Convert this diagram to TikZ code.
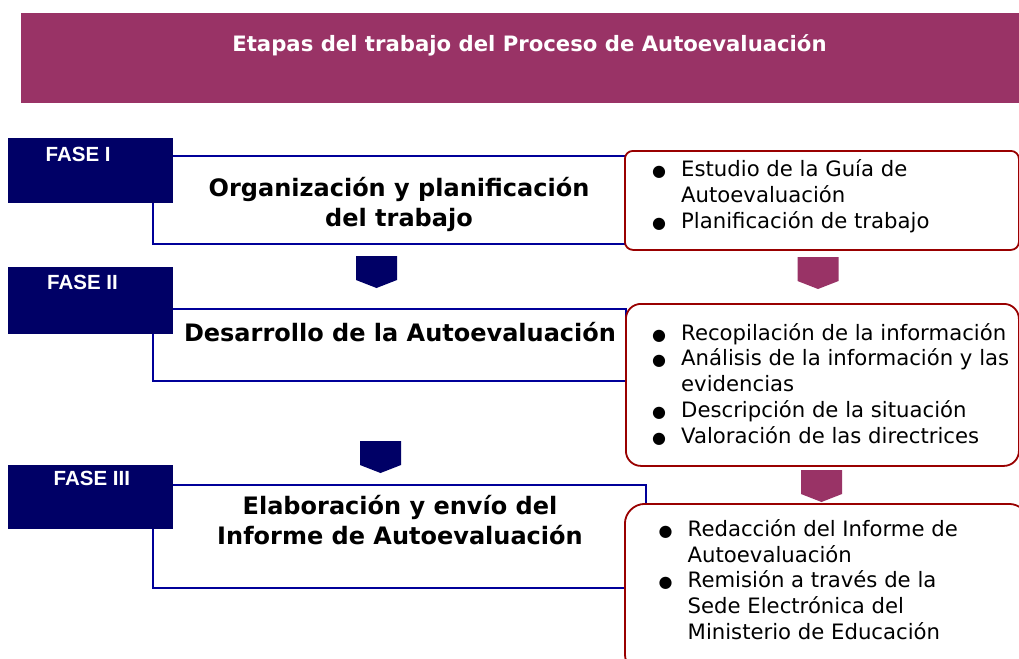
\documentclass[tikz,border=0pt]{standalone}
\usepackage{fontspec}
\setmainfont{DejaVu Sans}
\newfontfamily\arialfont{Liberation Sans}
\definecolor{plum}{HTML}{993366}
\definecolor{phasenavy}{HTML}{000066}
\definecolor{lineblue}{HTML}{000099}
\definecolor{boxred}{HTML}{990000}
\newcommand\itm{\makebox[29pt][l]{\fontsize{16}{16}\selectfont ●}}
\begin{document}
\begin{tikzpicture}[x=1pt,y=-1pt,
  banner/.style={fill=plum, draw=none, minimum width=998pt, minimum height=90pt, inner sep=0pt, anchor=north west},
  titletext/.style={text=white, font=\bfseries\fontsize{21.2}{25}\selectfont, inner sep=0pt, anchor=base},
  stagebox/.style={draw=lineblue, line width=1.5pt, inner sep=0pt, anchor=north west},
  fasebox/.style={fill=phasenavy, draw=none, inner sep=0pt, anchor=north west, minimum width=165pt},
  fasetext/.style={text=white, font=\arialfont\bfseries\fontsize{20.5}{24}\selectfont, inner sep=0pt, anchor=base west},
  listbox/.style={draw=boxred, line width=1.8pt, fill=white, inner sep=0pt, anchor=north west},
  heading/.style={font=\bfseries\fontsize{24}{30}\selectfont, inner sep=0pt, anchor=base},
  listtext/.style={inner sep=0pt, anchor=base west},
  chevdown/.pic={\fill (-20.5,0) -- (20.5,0) -- (20.5,24) -- (0,32) -- (-20.5,24) -- cycle;}
]
\useasboundingbox (0,0) rectangle (1019,658);
\clip (0,0) rectangle (1019,658);
\fill[white] (0,0) rectangle (1019,658);

% title banner
\node[banner] (banner) at (21,13) {};
\node[titletext] (title) at (529.5,52) {Etapas del trabajo del Proceso de Autoevaluación};

% stage outlines
\node[stagebox, minimum width=473pt, minimum height=88pt] (s1) at (152,155) {};
\node[stagebox, minimum width=473pt, minimum height=72pt] (s2) at (152,308) {};
\node[stagebox, minimum width=493pt, minimum height=103pt] (s3) at (152,484) {};

% phase tabs
\node[fasebox, minimum height=65pt] (f1) at (8,138) {};
\node[fasebox, minimum height=67pt] (f2) at (8,267) {};
\node[fasebox, minimum height=64pt] (f3) at (8,465) {};
\node[fasetext] (f1t) at (45.5,161) {FASE I};
\node[fasetext] (f2t) at (47,289) {FASE II};
\node[fasetext] (f3t) at (53.5,485) {FASE III};

% task boxes
\node[listbox, rounded corners=8pt, minimum width=394pt, minimum height=99pt] (b1) at (624,150) {};
\node[listbox, rounded corners=15pt, minimum width=393pt, minimum height=162pt] (b2) at (625,303) {};
\node[listbox, rounded corners=20pt, minimum width=404pt, minimum height=170pt] (b3) at (624,503) {};

% down arrows
\coordinate (a1) at (376.5,256);
\coordinate (a2) at (818,257);
\coordinate (a3) at (380.5,441);
\coordinate (a4) at (821.5,470);
\pic[color=phasenavy] at (a1) {chevdown};
\pic[color=plum] at (a2) {chevdown};
\pic[color=phasenavy] at (a3) {chevdown};
\pic[color=plum] at (a4) {chevdown};

% headings
\node[heading] (h1) at (399,196) {\begin{tabular}[t]{@{}c@{}}Organización y planificación\\del trabajo\end{tabular}};
\node[heading] (h2) at (400,341) {Desarrollo de la Autoevaluación};
\node[heading] (h3) at (400,514) {\begin{tabular}[t]{@{}c@{}}Elaboración y envío del\\Informe de Autoevaluación\end{tabular}};

% task lists
\node[listtext, font=\fontsize{21.2}{25.8}\selectfont] (l1) at (652,176.5) {\begin{tabular}[t]{@{}l@{}l@{}}
\itm & Estudio de la Guía de\\
 & Autoevaluación\\
\itm & Planificación de trabajo
\end{tabular}};
\node[listtext, font=\fontsize{21.2}{25.8}\selectfont] (l2) at (652,340) {\begin{tabular}[t]{@{}l@{}l@{}}
\itm & Recopilación de la información\\
\itm & Análisis de la información y las\\
 & evidencias\\
\itm & Descripción de la situación\\
\itm & Valoración de las directrices
\end{tabular}};
\node[listtext, font=\fontsize{21.2}{25.6}\selectfont] (l3) at (658.5,536.7) {\begin{tabular}[t]{@{}l@{}l@{}}
\itm & Redacción del Informe de\\
 & Autoevaluación\\
\itm & Remisión a través de la\\
 & Sede Electrónica del\\
 & Ministerio de Educación
\end{tabular}};
\end{tikzpicture}
\end{document}
